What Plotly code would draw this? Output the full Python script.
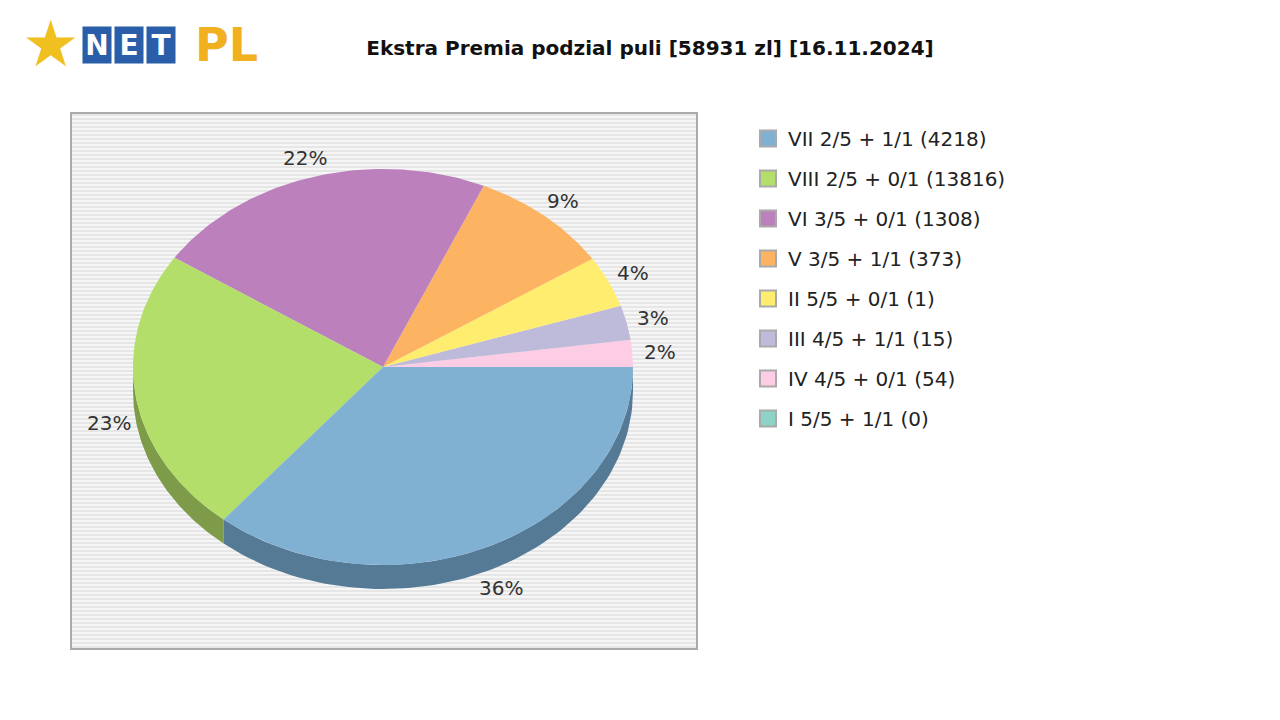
import numpy as np
import plotly.graph_objects as go

# legend order
labels = ["VII 2/5 + 1/1 (4218)", "VIII 2/5 + 0/1 (13816)", "VI 3/5 + 0/1 (1308)",
          "V 3/5 + 1/1 (373)", "II 5/5 + 0/1 (1)", "III 4/5 + 1/1 (15)",
          "IV 4/5 + 0/1 (54)", "I 5/5 + 1/1 (0)"]
shares = [36.0, 23.3, 22.3, 9.2, 4.2, 2.8, 2.2, 0.0]
colors = ["#80b1d3", "#b3de69", "#bc80bd", "#fdb462", "#ffed6f", "#bebada", "#fccde5", "#8dd3c7"]
side_colors = ["#557a96", "#7d9b49", "#84598a", "#b17e44", "#b3a64d", "#85829a", "#b08fa0", "#629b8b"]
# drawing order counterclockwise from 3 o'clock
draw_order = [6, 5, 4, 3, 2, 1, 0]

cx, cy, rx, ry, depth = 383, 367, 250, 198, 24


def px(x):
    return (x - 71) / 626


def py(y):
    return 1 - (y - 113) / 536


fig = go.Figure()
total = sum(shares)
start = 0.0
sides = []
slices = []
for i in draw_order:
    span = shares[i] / total * 360
    t = np.radians(np.linspace(start, start + span, 80))
    xs = np.concatenate([[cx], cx + rx * np.cos(t), [cx]])
    ys = np.concatenate([[cy], cy - ry * np.sin(t), [cy]])
    slices.append((i, xs, ys, start + span / 2))
    lo, hi = max(start, 180), min(start + span, 360)
    if hi > lo:
        ts = np.radians(np.linspace(lo, hi, 80))
        ex = cx + rx * np.cos(ts)
        ey = cy - ry * np.sin(ts)
        sides.append((i, np.concatenate([ex, ex[::-1]]), np.concatenate([ey, ey[::-1] + depth])))
    start += span

for i, xs, ys in sides:
    fig.add_trace(go.Scatter(x=xs, y=ys, fill="toself", fillcolor=side_colors[i], mode="lines",
                             line=dict(width=0), showlegend=False, hoverinfo="skip"))
for i, xs, ys, mid in slices:
    fig.add_trace(go.Scatter(x=xs, y=ys, fill="toself", fillcolor=colors[i], mode="lines",
                             line=dict(width=0), showlegend=False, hoverinfo="skip"))
    a = np.radians(mid)
    lx = cx + rx * 1.11 * np.cos(a)
    ly = cy - ry * 1.1 * np.sin(a) + (depth if np.sin(a) < 0 else 0)
    fig.add_annotation(x=lx, y=ly, text=f"{round(shares[i])}%", showarrow=False,
                       font=dict(size=20, color="#333"))
for i, lab in enumerate(labels):
    fig.add_trace(go.Scatter(x=[None], y=[None], mode="markers", name=lab, legendgroup=f"g{i}",
                             marker=dict(symbol="square", size=26, color=colors[i],
                                         line=dict(color="#aaa", width=2))))

fig.update_layout(
    width=1280, height=720, margin=dict(l=63, r=591, t=105, b=79),
    paper_bgcolor="white", plot_bgcolor="#e6e6e6",
    font=dict(family="DejaVu Sans", size=20, color="#222"),
    xaxis=dict(range=[71, 697], visible=False, fixedrange=True),
    yaxis=dict(range=[649, 113], showgrid=True, gridcolor="#f6f6f6", gridwidth=2,
               dtick=4, tick0=113, showticklabels=False, zeroline=False, ticks=""),
    legend=dict(x=px(748), y=py(119), xanchor="left", yanchor="top",
                font=dict(size=20), tracegroupgap=11, bgcolor="rgba(0,0,0,0)"),
    title=dict(text="<b>Ekstra Premia podzial puli [58931 zl] [16.11.2024]</b>",
               x=642 / 1280, y=1 - 40 / 720, xanchor="center", yanchor="middle", xref="container",
               yref="container", font=dict(size=20, color="#111")),
    shapes=[dict(type="rect", xref="paper", yref="paper", x0=0, y0=0, x1=1, y1=1,
                 line=dict(color="#aaa", width=2))],
)
# logo
fig.add_annotation(xref="paper", yref="paper", x=px(50), y=py(44), text="★", showarrow=False,
                   xanchor="center", yanchor="middle", font=dict(size=64, color="#f0c020"))
for k, ch in enumerate("NET"):
    fig.add_annotation(xref="paper", yref="paper", x=px(97 + k * 32), y=py(45),
                       text=f"<b>{ch}</b>", showarrow=False, xanchor="center", yanchor="middle",
                       bgcolor="#2a5ea8", width=26, height=34, font=dict(size=28, color="white"))
fig.add_annotation(xref="paper", yref="paper", x=px(226), y=py(45), text="<b>PL</b>",
                   showarrow=False, xanchor="center", yanchor="middle",
                   font=dict(size=46, color="#f0b020"))
fig.write_html("out.html")
